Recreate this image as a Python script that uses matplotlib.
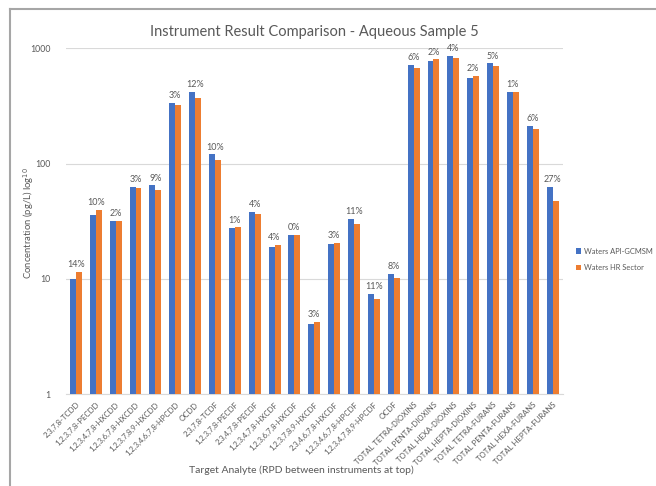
import matplotlib
matplotlib.use("Agg")
import matplotlib.pyplot as plt
from matplotlib.lines import Line2D
import numpy as np

plt.rcParams['font.family'] = ['Lato', 'DejaVu Sans']

categories = ["2,3,7,8-TCDD", "1,2,3,7,8-PECDD", "1,2,3,4,7,8-HXCDD", "1,2,3,6,7,8-HXCDD",
              "1,2,3,7,8,9-HXCDD", "1,2,3,4,6,7,8-HPCDD", "OCDD", "2,3,7,8-TCDF",
              "1,2,3,7,8-PECDF", "2,3,4,7,8-PECDF", "1,2,3,4,7,8-HXCDF", "1,2,3,6,7,8-HXCDF",
              "1,2,3,7,8,9-HXCDF", "2,3,4,6,7,8-HXCDF", "1,2,3,4,6,7,8-HPCDF", "1,2,3,4,7,8,9-HPCDF",
              "OCDF", "TOTAL TETRA-DIOXINS", "TOTAL PENTA-DIOXINS", "TOTAL HEXA-DIOXINS",
              "TOTAL HEPTA-DIOXINS", "TOTAL TETRA-FURANS", "TOTAL PENTA-FURANS",
              "TOTAL HEXA-FURANS", "TOTAL HEPTA-FURANS"]

api_gcmsms = [10.0, 36.0, 31.5, 63.0, 64.5, 335, 420, 120, 27.6, 38.3, 18.7, 23.9,
              4.07, 20.0, 33.1, 7.45, 11.1, 714, 780, 855, 558, 740, 415, 212, 62.5]
hr_sector = [11.5, 39.6, 31.9, 61.0, 58.5, 323, 372, 108, 27.9, 36.6, 19.6, 23.9,
             4.2, 20.5, 29.7, 6.65, 10.2, 669, 800, 818, 572, 700, 418, 200, 47.2]
rpd_labels = ["14%", "10%", "2%", "3%", "9%", "3%", "12%", "10%", "1%", "4%", "4%", "0%",
              "3%", "3%", "11%", "11%", "8%", "6%", "2%", "4%", "2%", "5%", "1%", "6%", "27%"]
series_names = ["Waters API-GCMSM", "Waters HR Sector"]

fig = plt.figure(figsize=(6.56, 4.86), dpi=100)
ax = fig.add_axes([0.1006, 0.1893, 0.757, 0.7113])

n = len(categories)
x = np.arange(n)
w = 0.30
blue = "#4472C4"
orange = "#ED7D31"
txt = "#595959"

ax.bar(x - w/2, api_gcmsms, w, color=blue, label=series_names[0], zorder=3)
ax.bar(x + w/2, hr_sector, w, color=orange, label=series_names[1], zorder=3)

for i in range(n):
    top = max(api_gcmsms[i], hr_sector[i])
    ax.annotate(rpd_labels[i], (x[i], top), xytext=(0, 2), textcoords="offset points",
                ha="center", va="bottom", fontsize=6.5, color=txt)

ax.set_yscale("log")
ax.set_ylim(1, 1000)
ax.set_xlim(-0.5, n - 0.5)
ax.set_yticks([1, 10, 100, 1000])
ax.set_yticklabels(["1", "10", "100", "1000"])
ax.minorticks_off()
ax.tick_params(axis="y", length=0, pad=11, labelsize=6.3, labelcolor=txt)
ax.set_xticks(x)
ax.set_xticklabels(categories, rotation=45, ha="right", rotation_mode="anchor",
                   fontsize=5.6, color=txt)
ax.tick_params(axis="x", length=0, pad=5)
ax.grid(axis="y", color="#D9D9D9", linewidth=0.8, zorder=0)
for s in ["top", "right", "left"]:
    ax.spines[s].set_visible(False)
ax.spines["bottom"].set_color("#D9D9D9")

ax.set_title("Instrument Result Comparison - Aqueous Sample 5", fontsize=10.5,
             color=txt, pad=9)
fig.text(0.043, 0.54, "Concentration (pg/L) log$^{10}$", rotation=90, ha="center",
         va="center", fontsize=6.8, color=txt)
fig.text(0.46, 0.033, "Target Analyte (RPD between instruments at top)", ha="center",
         va="center", fontsize=7.5, color=txt)

fig.legend(loc="center left", bbox_to_anchor=(0.873, 0.466), frameon=False,
           fontsize=5.4, handlelength=0.7, handleheight=0.7, labelcolor=txt,
           borderaxespad=0, handletextpad=0.4, labelspacing=1.3)

# figure border (top and left)
fig.add_artist(Line2D([10/656, 1], [1 - 9/486, 1 - 9/486], color="#A6A6A6", lw=1.5,
                      transform=fig.transFigure))
fig.add_artist(Line2D([10/656, 10/656], [0, 1 - 9/486], color="#A6A6A6", lw=1.5,
                      transform=fig.transFigure))

fig.savefig("out.png", dpi=100)
